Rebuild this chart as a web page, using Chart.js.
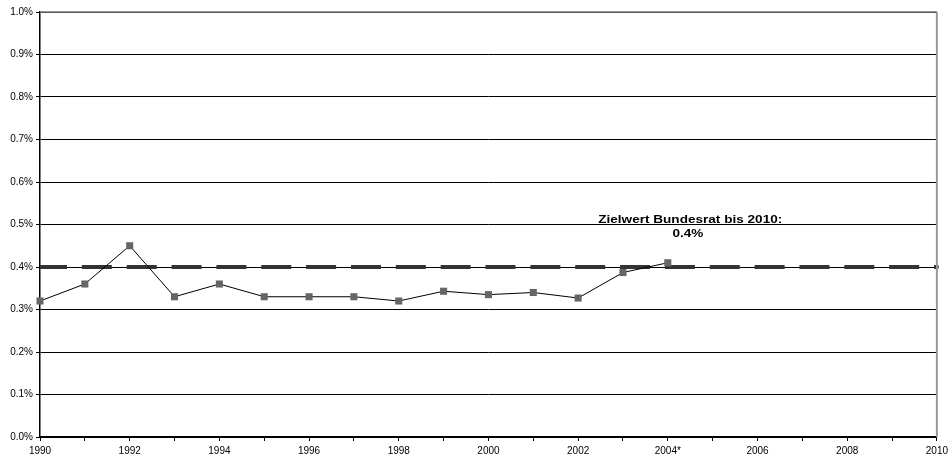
<!DOCTYPE html>
<html>
<head>
<meta charset="utf-8">
<script src="https://cdn.jsdelivr.net/npm/chart.js@4"></script>
<style>
  html, body { margin: 0; padding: 0; background: #fff; }
  #wrap { width: 952px; height: 461px; }
</style>
</head>
<body>
<div id="wrap"><canvas id="chart" width="952" height="461"></canvas></div>
<script>
// Jahre (x-Achse)
const years = ['1990', '1991', '1992', '1993', '1994', '1995', '1996', '1997', '1998', '1999', '2000',
  '2001', '2002', '2003', '2004*', '2005', '2006', '2007', '2008', '2009', '2010'];

// Anteil in Prozent
const anteil = [0.32, 0.36, 0.45, 0.33, 0.36, 0.33, 0.33, 0.33, 0.32, 0.343, 0.335,
  0.34, 0.327, 0.387, 0.41, null, null, null, null, null, null];

// Zielwert Bundesrat
const zielwert = years.map(() => 0.4);
const zielText = ['Zielwert Bundesrat bis 2010:', '0.4%'];

const yTicks = [0, 0.1, 0.2, 0.3, 0.4, 0.5, 0.6, 0.7, 0.8, 0.9, 1.0];

// text label + frame lines
const extras = {
  id: 'extras',
  afterDraw(chart) {
    const ctx = chart.ctx;
    const x = chart.scales.x, y = chart.scales.y;
    const area = chart.chartArea;
    ctx.save();
    // right border, top line
    ctx.strokeStyle = '#999';
    ctx.lineWidth = 2;
    ctx.beginPath();
    ctx.moveTo(area.right, area.top);
    ctx.lineTo(area.right, area.bottom);
    ctx.stroke();
    ctx.strokeStyle = '#777';
    ctx.lineWidth = 1.5;
    ctx.beginPath();
    ctx.moveTo(area.left, area.top);
    ctx.lineTo(area.right, area.top);
    ctx.stroke();
    // annotation (slightly wide lettering like the original)
    const cx = x.getPixelForValue(14.5);
    const cy = y.getPixelForValue(0.5);
    ctx.fillStyle = '#000';
    ctx.font = 'bold 11.5px "Liberation Sans", Arial, sans-serif';
    ctx.textAlign = 'center';
    ctx.textBaseline = 'alphabetic';
    ctx.translate(cx, cy);
    ctx.scale(1.18, 1);
    ctx.fillText(zielText[0], 0, -2);
    ctx.fillText(zielText[1], -2, 12.5);
    ctx.restore();
  }
};

new Chart(document.getElementById('chart').getContext('2d'), {
  type: 'line',
  data: {
    labels: years,
    datasets: [
      {
        label: 'Anteil',
        data: anteil,
        borderColor: '#000',
        borderWidth: 1,
        pointStyle: 'rect',
        pointRadius: 5,
        pointBackgroundColor: '#666',
        pointBorderColor: '#666',
        pointBorderWidth: 0,
        spanGaps: false,
        order: 1
      },
      {
        label: 'Zielwert',
        data: zielwert,
        borderColor: '#333',
        borderWidth: 4,
        borderDash: [30, 14.85],
        borderDashOffset: 3,
        borderCapStyle: 'butt',
        pointStyle: 'rect',
        pointRadius: years.map((v, i) => i === years.length - 1 ? 2.5 : 0),
        pointBackgroundColor: '#333',
        pointBorderWidth: 0,
        order: 2
      }
    ]
  },
  options: {
    responsive: false,
    animation: false,
    layout: { padding: { top: 12, right: 15, left: 0, bottom: 0 } },
    plugins: {
      legend: { display: false },
      tooltip: { enabled: false }
    },
    scales: {
      x: {
        type: 'category',
        offset: false,
        grid: {
          display: true,
          drawOnChartArea: false,
          drawTicks: true,
          tickLength: 4,
          color: '#000'
        },
        border: { color: '#000', width: 1.5 },
        ticks: {
          autoSkip: false,
          maxRotation: 0,
          padding: 4,
          color: '#000',
          font: { family: '"Liberation Sans", Arial, sans-serif', size: 10 },
          callback: function(value, index) {
            return index % 2 === 0 ? years[index] : '';
          }
        },
        afterFit(scale) { scale.height = 24; }
      },
      y: {
        min: 0,
        max: 1.0,
        afterBuildTicks(scale) { scale.ticks = yTicks.map(v => ({ value: v })); },
        grid: {
          color: '#000',
          lineWidth: 1,
          drawTicks: true,
          tickLength: 4
        },
        border: { color: '#000', width: 1.5 },
        ticks: {
          color: '#000',
          padding: 3,
          font: { family: '"Liberation Sans", Arial, sans-serif', size: 10 },
          callback: v => v.toFixed(1) + '%'
        },
        afterFit(scale) { scale.width = 40; }
      }
    }
  },
  plugins: [extras]
});
</script>
</body>
</html>
